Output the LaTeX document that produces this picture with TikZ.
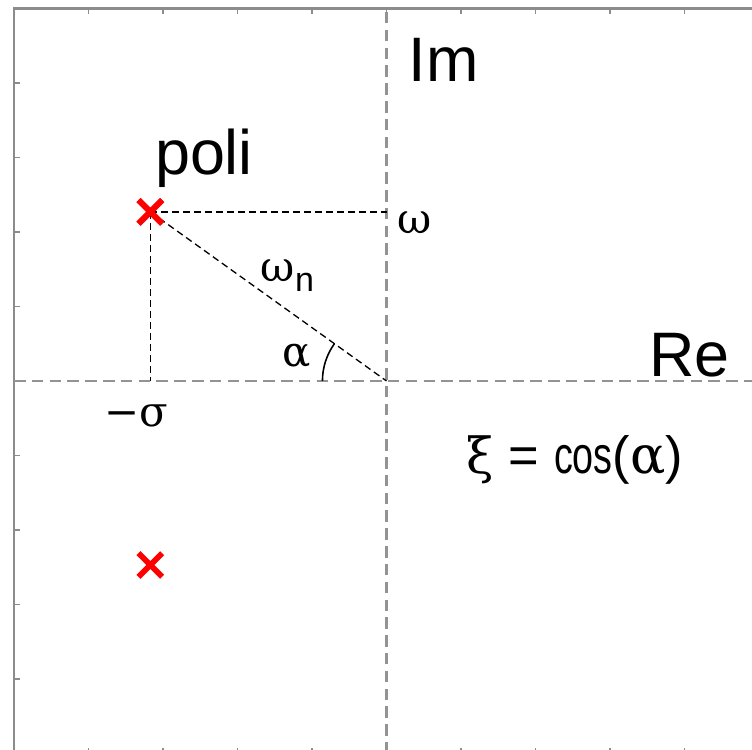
\documentclass[tikz,border=0pt]{standalone}
\usepackage{fontspec}
\usepackage{graphicx}
\setmainfont{Liberation Sans}
\newfontfamily\grk{DejaVu Serif}
\usepackage{tikz}
\usetikzlibrary{shapes.misc}

\begin{document}
\begin{tikzpicture}[
    axisline/.style={draw=gray!85, line width=0.8pt, dash pattern=on 4.4pt off 2.4pt},
    guide/.style={draw=black, line width=0.5pt, dash pattern=on 2.6pt off 1.6pt},
    pole/.style={cross out, draw=red, line width=2.2pt, minimum size=0.24cm, inner sep=0pt},
    big/.style={font=\fontsize{24}{28}\selectfont},
    sym/.style={font=\grk\fontsize{16}{19}\selectfont}]
    \useasboundingbox (-5.188,-4.953) rectangle (4.906,5.114);

    % frame and ticks
    \draw[gray!90, line width=1pt] (-5,-5) rectangle (5,5);
    \foreach \t in {-4,...,4} {
        \draw[gray!90, line width=0.5pt] (\t,5) -- (\t,4.92);
        \draw[gray!90, line width=0.5pt] (\t,-5) -- (\t,-4.92);
        \draw[gray!90, line width=0.6pt] (-5,\t) -- (-4.92,\t);
        \draw[gray!90, line width=0.6pt] (5,\t) -- (4.92,\t);
    }

    \coordinate (0) at (0,0);
    \coordinate (xl) at (-5,0);
    \coordinate (xr) at (5,0);
    \coordinate (yb) at (0,-5);
    \coordinate (yt) at (0,5);
    \coordinate (w) at (0,2.27);
    \coordinate (s) at (-3.17,0);

    \node[pole] (1) at (-3.17,2.27) {};
    \node[pole] (2) at (-3.17,-2.47) {};

    \node[big] (3) at (0.77,4.31) {Im};
    \node[big] (4) at (4.07,0.35) {Re};
    \node[big, anchor=base] (5) at (-2.45,2.77) {poli};
    \node[sym] (6) at (0.38,2.13) {ω};
    \node[sym] (7) at (-1.33,1.41) {ω\raisebox{-0.45ex}{\fontsize{13}{15}\selectfont\rmfamily n}};
    \node[sym] (8) at (-1.20,0.33) {α};
    \node[sym] (9) at (-3.36,-0.47) {−σ};
    \node[font=\fontsize{20}{24}\selectfont] (10) at (2.53,-1.06)
        {{\grk\fontsize{19}{24}\selectfont ξ} = \scalebox{0.72}[1]{cos}({\grk α})};

    \path (xl) [axisline] edge (xr)
          (yb) [axisline] edge (yt);

    \path (1.center) [guide] edge (w)
          (1.center) [guide] edge (s)
          (1.center) [guide] edge (0);

    \draw[black, line width=0.6pt] (0) ++(180:0.86) arc (180:144.4:0.86);

    \node[pole] at (1) {};
\end{tikzpicture}
\end{document}
